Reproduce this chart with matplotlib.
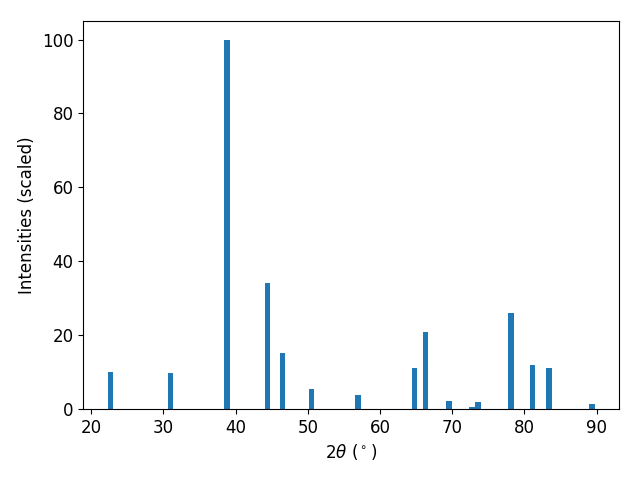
import matplotlib
matplotlib.use("Agg")
import matplotlib.pyplot as plt

two_theta = [22.67, 30.98, 38.8, 44.42, 46.5, 50.5, 56.95, 64.78, 66.3,
             69.6, 72.7, 73.6, 78.1, 81.1, 83.4, 89.3]
intensity = [10.1, 9.8, 100.0, 34.2, 15.2, 5.4, 3.8, 11.1, 20.9,
             2.2, 0.5, 1.9, 26.0, 11.9, 11.1, 1.4]

plt.rcParams['font.size'] = 12
fig, ax = plt.subplots(figsize=(6.4, 4.8), dpi=100)
ax.bar(two_theta, intensity, width=0.8, color='#1f77b4')
ax.set_xlabel(r'2$\theta$ ($^\circ$)')
ax.set_ylabel('Intensities (scaled)')
fig.subplots_adjust(left=0.13, right=0.967, top=0.956, bottom=0.148)
fig.savefig('out.png', dpi=100)
